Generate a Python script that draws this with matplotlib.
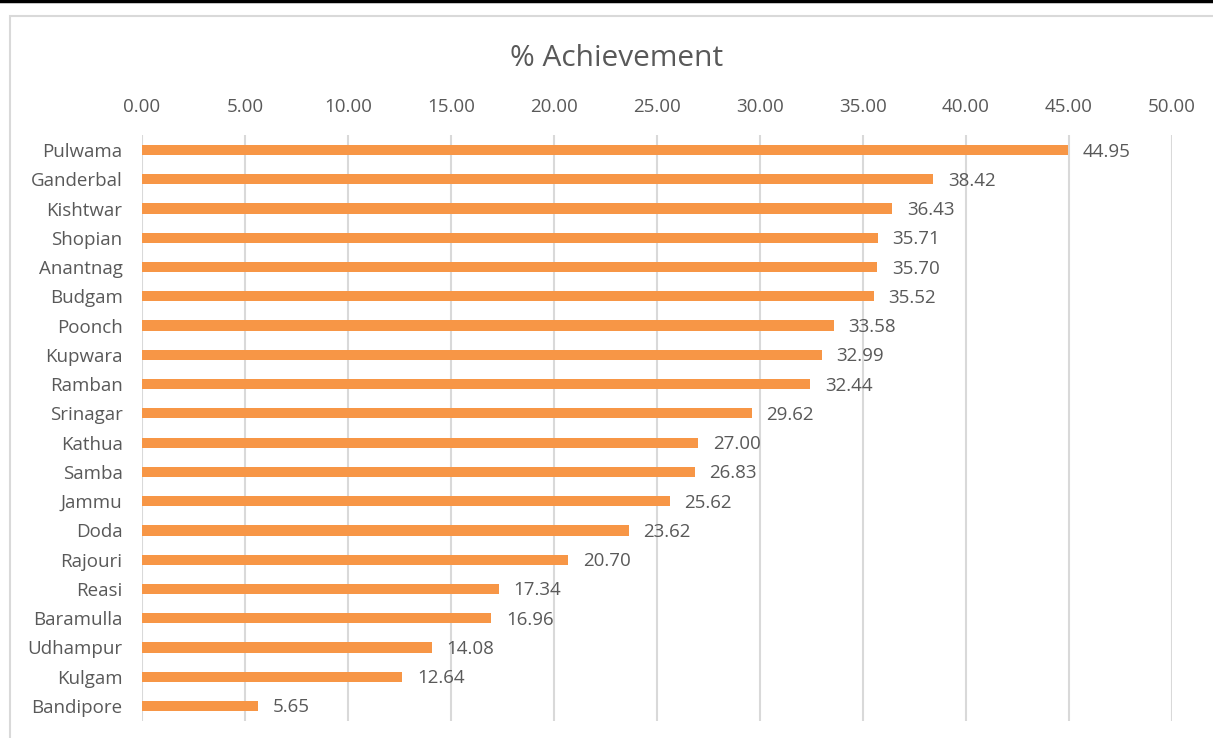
import matplotlib
matplotlib.use('Agg')
import matplotlib.pyplot as plt
from matplotlib.patches import Rectangle
from matplotlib.lines import Line2D

districts = ['Pulwama', 'Ganderbal', 'Kishtwar', 'Shopian', 'Anantnag', 'Budgam',
             'Poonch', 'Kupwara', 'Ramban', 'Srinagar', 'Kathua', 'Samba', 'Jammu',
             'Doda', 'Rajouri', 'Reasi', 'Baramulla', 'Udhampur', 'Kulgam', 'Bandipore']
achievement = [44.95, 38.42, 36.43, 35.71, 35.70, 35.52, 33.58, 32.99, 32.44, 29.62,
               27.00, 26.83, 25.62, 23.62, 20.70, 17.34, 16.96, 14.08, 12.64, 5.65]
xticks = [0, 5, 10, 15, 20, 25, 30, 35, 40, 45, 50]

plt.rcParams['font.family'] = ['Open Sans', 'DejaVu Sans']
text_col = '#595959'
fs = 13.5

fig = plt.figure(figsize=(12.13, 7.38), dpi=100)
ax = fig.add_axes([0.1171, 0.0236, 0.8491, 0.7929])

ypos = list(range(len(districts)))
ax.barh(ypos, achievement, height=0.35, color='#F79646', zorder=3)
for y, v in zip(ypos, achievement):
    ax.text(v + 0.7, y + 0.05, f'{v:.2f}', va='center', ha='left', fontsize=fs, color=text_col)

ax.set_ylim(len(districts) - 0.5, -0.5)
ax.set_yticks(ypos)
ax.set_yticklabels(districts, fontsize=fs, color=text_col)
ax.set_xlim(0, 50)
ax.set_xticks(xticks)
ax.set_xticklabels([f'{t:.2f}' for t in xticks], fontsize=fs, color=text_col)
ax.xaxis.tick_top()
ax.tick_params(axis='y', length=0, pad=14)
ax.tick_params(axis='x', length=0, pad=14)
ax.grid(axis='x', color='#D9D9D9', linewidth=1.5, zorder=0)
for s in ax.spines.values():
    s.set_visible(False)

fig.text(0.508, 0.921, '% Achievement', ha='center', va='center', fontsize=21.5, color=text_col)

# chart frame and top rule
fig.patches.append(Rectangle((10 / 1213, -0.1), 1.2, 1 - 16 / 738 + 0.1, transform=fig.transFigure,
                             fill=False, edgecolor='#D9D9D9', linewidth=1.5))
fig.lines.append(Line2D([0, 1], [1 - 1 / 738, 1 - 1 / 738], transform=fig.transFigure,
                        color='black', linewidth=2.5))

fig.savefig('out.png', dpi=100)
